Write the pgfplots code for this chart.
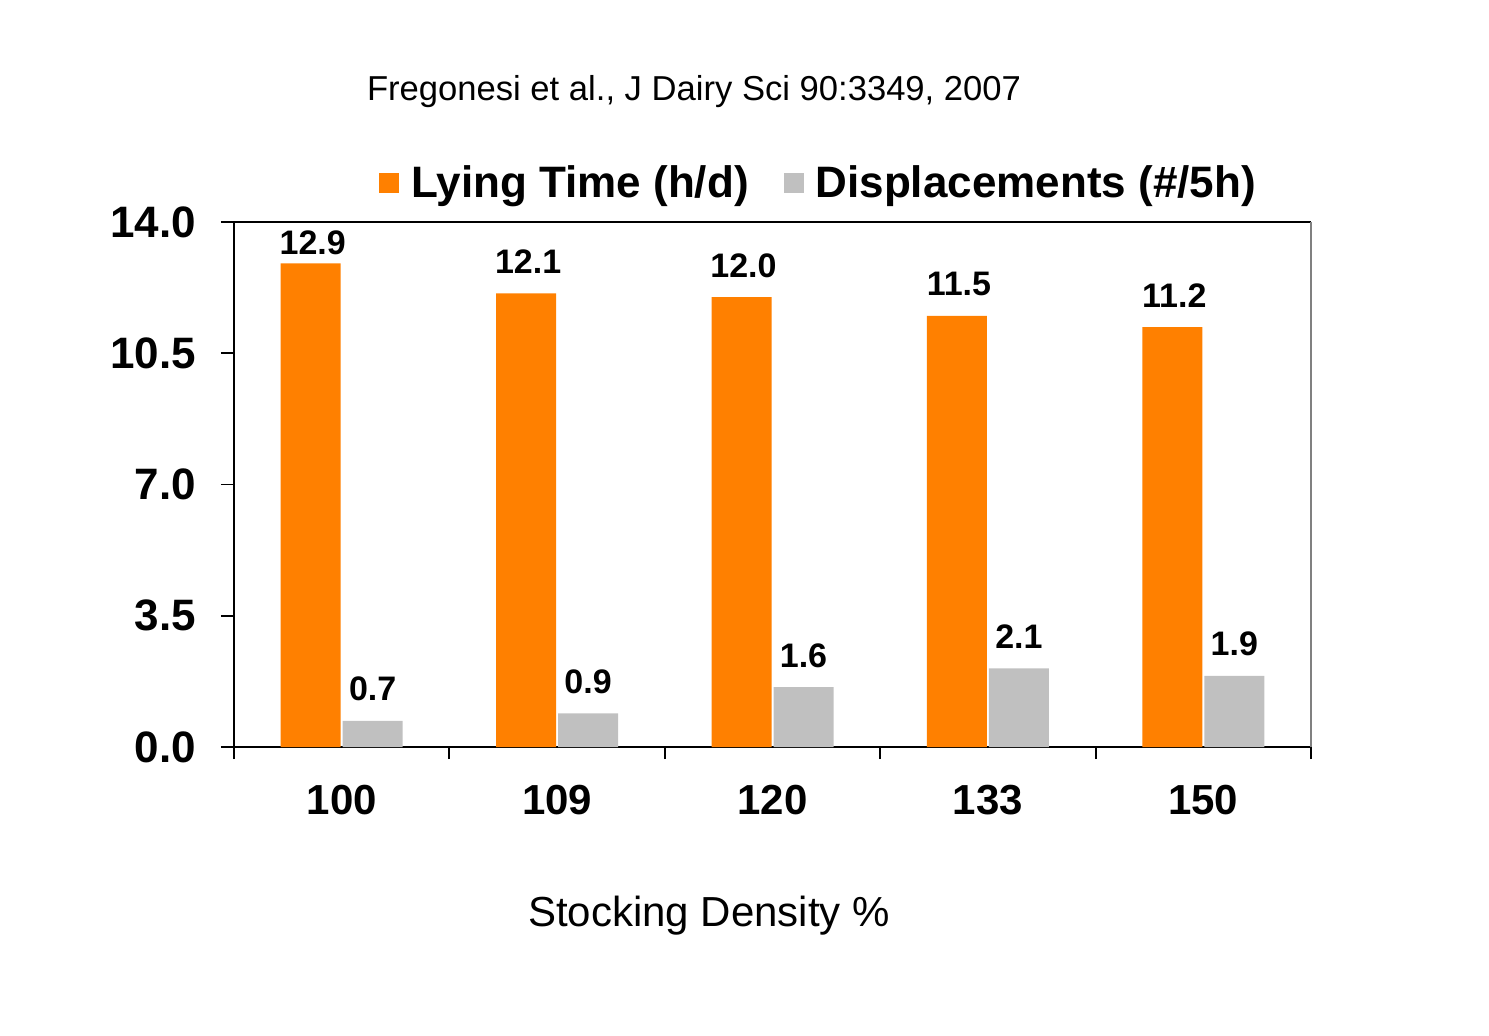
\documentclass[border=0pt]{standalone}
\usepackage{fontspec}
\setmainfont{Liberation Sans}
\usepackage{pgfplots}
\pgfplotsset{compat=1.18}
\usepackage{pgfplotstable}
\definecolor{barorange}{RGB}{255,128,0}
\definecolor{bargray}{RGB}{192,192,192}
\definecolor{rightgray}{RGB}{128,128,128}
\pgfplotstableread{
x y off
0 12.9 4.5
1 12.1 10
2 12.0 10
3 11.5 10
4 11.2 10
}\lying
\pgfplotstableread{
x y off
0 0.7 10
1 0.9 10
2 1.6 10
3 2.1 10
4 1.9 10
}\displ
\begin{document}
\begin{tikzpicture}
\begin{axis}[
  scale only axis, width=538.5pt, height=262.5pt,
  at={(0,0)}, anchor=south west,
  clip=false,
  ybar=1pt, bar width=30pt,
  xmin=-0.5, xmax=4.5, ymin=0, ymax=14,
  axis x line*=bottom, axis y line*=left,
  axis line style={-, line width=0.9pt, black},
  xtick={0,1,2,3,4}, xticklabels={100,109,120,133,150},
  minor xtick={-0.5,0.5,1.5,2.5,3.5,4.5},
  major x tick style={draw=none},
  ytick={0,3.5,7,10.5,14},
  /pgf/number format/assume math mode=true,
  tick align=outside,
  major tick length=6.5pt, minor tick length=6pt,
  tick style={line width=0.9pt, black},
  xticklabel style={font=\fontsize{21}{25}\selectfont\bfseries, yshift=-9pt},
  yticklabel style={font=\fontsize{22}{26}\selectfont\bfseries, xshift=-9pt,
    /pgf/number format/.cd, fixed, fixed zerofill, precision=1},
  xlabel={Stocking Density \%},
  xlabel style={at={(axis description cs:0.441,-0.342)}, anchor=base, font=\fontsize{21}{25}\selectfont},
  legend columns=2,
  legend style={draw=none, fill=none, at={(axis description cs:0.129,1.0745)}, anchor=west,
    font=\fontsize{22}{26}\selectfont\bfseries,
    /tikz/every odd column/.append style={column sep=4pt},
    /tikz/every even column/.append style={column sep=15.5pt}},
  legend image code/.code={\fill[#1] (0pt,-5pt) rectangle (10pt,5pt);},
]
\addplot[fill=barorange, draw=none,
  nodes near coords,
  visualization depends on={\thisrow{off}\as\myoff},
  nodes near coords style={anchor=base, inner sep=0pt, yshift=\myoff, xshift=1pt, black,
    font=\fontsize{17}{20}\selectfont\bfseries,
    /pgf/number format/.cd, fixed, fixed zerofill, precision=1}]
  table[x=x,y=y]{\lying};
\addlegendentry{Lying Time (h/d)}
\addplot[fill=bargray, draw=none,
  nodes near coords,
  visualization depends on={\thisrow{off}\as\myoff},
  nodes near coords style={anchor=base, inner sep=0pt, yshift=\myoff, black,
    font=\fontsize{17}{20}\selectfont\bfseries,
    /pgf/number format/.cd, fixed, fixed zerofill, precision=1}]
  table[x=x,y=y]{\displ};
\addlegendentry{Displacements (\#/5h)}
\draw[line width=0.9pt, black] (rel axis cs:0,1) -- (rel axis cs:1,1);
\draw[line width=0.9pt, rightgray] (rel axis cs:1,0) -- (rel axis cs:1,1);
\node[anchor=base west, font=\fontsize{17.3}{20}\selectfont] at (rel axis cs:0.117,1.2305) {Fregonesi et al., J Dairy Sci 90:3349, 2007};
\end{axis}
\pgfresetboundingbox
\path[use as bounding box] (-117pt,-144pt) rectangle (627.5pt,373.5pt);
\end{tikzpicture}
\end{document}
